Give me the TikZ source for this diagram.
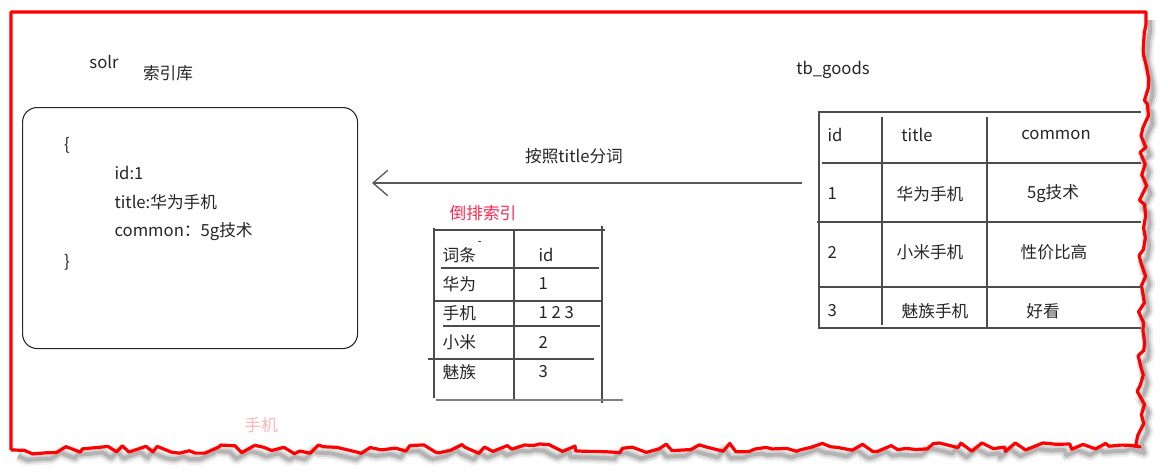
\documentclass[tikz,border=0pt]{standalone}
\usepackage{fontspec}
\setmainfont{Noto Sans CJK SC}
\usepackage{xcolor}
\usetikzlibrary{arrows.meta, decorations.pathmorphing}

\definecolor{tagred}{RGB}{255,40,80}
\definecolor{fadepink}{RGB}{255,180,190}

\begin{document}
\begin{tikzpicture}[
            x=0.75pt, y=-0.75pt,
            font=\fontsize{12.5}{15}\selectfont,
            txt/.style={text=black!85, inner sep=1pt},
            lefttxt/.style={txt, anchor=west},
            grid/.style={draw=black!70, line width=1pt},
            docbox/.style={draw=black!85, line width=0.8pt, rounded corners=11pt},
            frame/.style={draw=red, line width=2.4pt, line join=round},
            arrow/.style={draw=black!65, line width=1pt, -{Straight Barb[length=11pt,width=19pt]}}
        ]

        \useasboundingbox (0,0) rectangle (1168,475);
        \fill[white] (0,0) rectangle (1168,475);

        \foreach \w/\o in {9pt/0.06, 6pt/0.1, 3pt/0.16} {
            \pgfmathsetseed{11}
            \draw[draw=black, opacity=\o, line width=\w, line join=round, shift={(4,6)}]
                (1146,14) decorate[decoration={random steps, segment length=7pt, amplitude=3.5pt}] {-- (1140,447) -- (14,450)};
        }
        \pgfmathsetseed{11}
        \draw[frame] (11,450) -- (11,12) -- (1146,12)
            decorate[decoration={random steps, segment length=7pt, amplitude=3.5pt}] {-- (1140,447) -- (11,450)};

        \node (solr) [txt] at (104,62) {solr};
        \node (lib) [txt] at (168,73) {索引库};
        \node (doc) [docbox, minimum width=251.25pt, minimum height=180.75pt, anchor=north west] at (22,107) {};
        \node (open) [txt] at (67,145) {\{};
        \node (fid) [lefttxt] at (113,173) {id:1};
        \node (ftitle) [lefttxt] at (113,202) {title:华为手机};
        \node (fcommon) [lefttxt] at (113,232) {common：5g技术};
        \node (close) [txt] at (67,262) {\}};

        \node (goods) [txt] at (833,70) {tb\_goods};
        \coordinate (src) at (802,183);
        \coordinate (dst) at (372,183);
        \draw [arrow] (src) -- (dst);
        \node (split) [txt] at (574,156) {按照title分词};

        \node (inv) [txt, text=tagred] at (483,213) {倒排索引};
        \draw [grid] (433,230) -- (605,230);
        \draw [grid] (602,226) -- (602,403);
        \draw [grid] (434,228) -- (434,398);
        \draw [grid] (514,230) -- (514,400);
        \draw [grid] (441,268) -- (599,268);
        \draw [grid] (434,301) -- (603,301);
        \draw [grid] (443,326) -- (600,326);
        \draw [grid] (428,359) -- (594,359);
        \draw [grid, draw=black!50] (436,400) -- (623,400);
        \draw [grid, line width=0.6pt] (478,241) -- (481,241);
        \foreach \term/\ids/\y [count=\i] in {词条/id/255, 华为/1/284, 手机/1 2 3/313, 小米/2/342, 魅族/3/372} {
            \node (term\i) [lefttxt] at (441,\y) {\term};
            \node (ids\i) [lefttxt] at (537,\y) {\ids};
        }

        \draw [grid] (1141,112) -- (819,112) -- (819,328) -- (1141,328);
        \draw [grid] (882,117) -- (882,325);
        \draw [grid] (987,117) -- (987,328);
        \draw [grid] (822,163) -- (1141,163);
        \draw [grid] (817,222) -- (1141,222);
        \draw [grid] (820,287) -- (1141,287);
        \foreach \id/\title/\tx/\common/\cx/\y [count=\r] in {id/title/917/common/1056/135, 1/华为手机/930/5g技术/1053/194, 2/小米手机/930/性价比高/1054/252, 3/魅族手机/935/好看/1043/311} {
            \node (gid\r) [lefttxt] at (826,\y) {\id};
            \node (gtitle\r) [txt] at (\tx,\y) {\title};
            \node (gcommon\r) [txt] at (\cx,\y) {\common};
        }

        \node (ghost) [txt, text=fadepink] at (261,425) {手机};
        \end{tikzpicture}
\end{document}
